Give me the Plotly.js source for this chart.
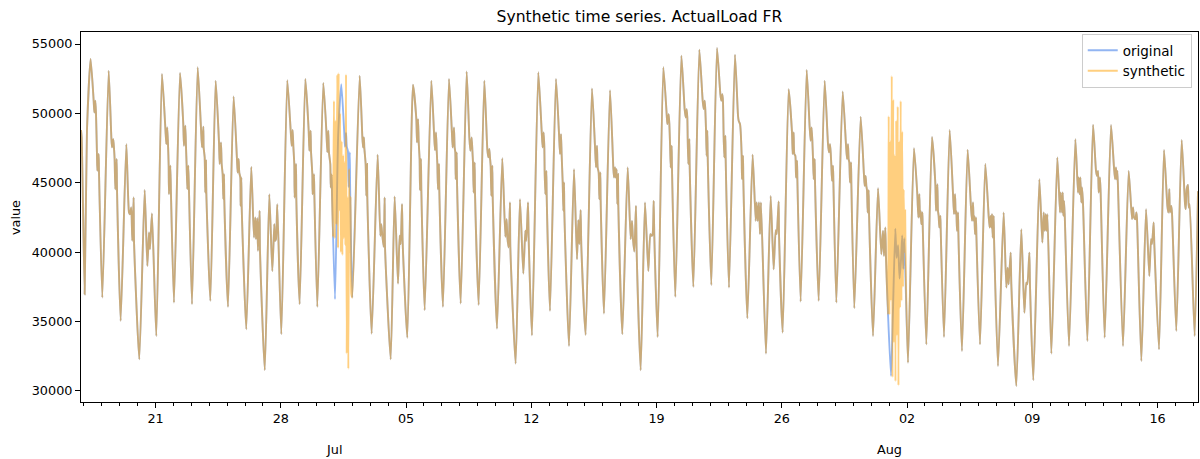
<!DOCTYPE html>
<html>
<head>
<meta charset="utf-8">
<script src="https://cdn.plot.ly/plotly-3.0.1.min.js"></script>
<style>html,body{margin:0;padding:0;background:#fff;}#chart{width:1200px;height:459px;}</style>
</head>
<body>
<div id="chart"></div>
<script>
// time base: hours since 2021-06-17 00:00
const baseDate = "2021-06-17T00:00:00Z";

// original series (ActualLoad FR): hour offset, value
const origHours = [
-4.0,-3.1,0.9,4.0,8.9,13.0,13.9,15.2,16.1,17.4,17.9,19.7,20.1,24.6,
33.1,36.7,37.6,39.3,40.2,41.1,42.0,43.8,44.3,49.2,
56.8,60.4,61.7,63.4,64.8,66.6,67.1,74.2,
81.4,85.0,87.2,88.5,91.2,97.0,
104.6,109.1,110.4,111.7,112.7,113.6,114.0,115.8,116.7,120.7,
128.8,133.2,134.1,135.9,136.8,137.7,138.6,139.9,140.8,144.9,
152.5,156.9,158.3,160.1,160.5,161.9,162.7,163.6,164.1,169.5,
176.6,181.1,182.0,183.8,184.7,186.0,186.9,187.8,188.2,193.2,
200.7,205.2,206.1,207.4,208.3,209.7,210.1,211.0,211.5,217.7,
224.4,228.0,229.8,230.7,232.5,233.4,235.6,236.1,242.5,
248.6,252.6,255.3,256.2,257.5,259.3,264.7,
272.7,277.2,278.6,279.9,280.8,282.1,282.6,284.4,284.8,289.3,
296.9,301.4,302.3,304.0,304.5,306.3,306.7,308.5,309.0,313.0,
321.0,325.1,326.4,327.7,328.6,330.4,331.0,332.2,332.8,
336.7,341.0,345.2,349.0,350.0,351.5,352.5,354.0,355.0,356.5,357.0,359.9,
369.8,373.4,374.3,375.5,376.0,377.8,378.7,379.7,380.0,385.9,
393.9,397.5,398.8,400.2,402.0,403.3,403.8,411.4,
416.7,421.2,423.4,424.8,426.6,427.4,433.7,
441.3,445.8,446.7,448.1,449.0,450.2,450.7,452.0,452.5,457.0,
465.9,469.5,470.8,472.2,473.1,474.0,474.8,476.2,476.6,481.5,
489.6,493.2,494.5,496.3,497.2,498.1,498.6,499.9,500.3,505.3,
513.3,516.9,518.2,520.0,521.0,521.8,522.7,524.0,524.5,529.4,
537.0,541.0,542.4,543.7,544.6,545.5,546.4,547.7,548.2,554.0,
561.1,565.2,566.9,567.9,569.6,571.4,571.9,579.0,
584.8,589.3,592.0,593.3,595.6,596.5,600.9,
609.4,614.0,615.2,616.6,617.5,617.9,618.8,620.2,620.6,625.1,
633.1,637.2,638.5,639.9,640.7,642.1,643.0,643.9,644.3,650.6,
657.3,661.3,663.1,664.4,666.2,667.1,672.9,
681.4,685.4,686.8,688.1,689.0,690.4,691.3,692.6,693.0,697.5,
705.6,710.0,710.9,712.3,713.2,714.5,715.4,716.3,716.7,722.1,
729.3,733.3,735.1,736.4,738.2,740.4,741.3,746.7,
752.5,757.0,759.7,761.5,762.8,764.2,765.0,769.5,
777.1,781.6,782.5,784.3,785.2,786.1,787.0,788.3,788.7,793.2,
801.3,805.7,807.1,808.4,809.3,809.8,810.6,812.0,812.4,817.4,
825.4,829.9,831.2,832.6,833.4,834.4,835.2,836.1,836.6,841.5,
849.1,853.6,854.9,856.3,857.1,858.0,858.9,860.3,860.7,865.2,
873.2,877.3,878.2,880.0,882.2,882.6,884.0,884.4,889.8,
896.9,901.0,902.3,903.7,905.4,906.8,908.1,914.8,
921.1,925.1,927.8,929.2,931.8,932.3,937.2,
945.2,949.7,950.6,951.9,952.8,954.2,955.1,956.5,956.9,961.3,
969.4,973.4,974.7,976.0,977.0,977.9,978.8,980.1,980.5,985.5,
993.5,998.0,999.3,1000.7,1001.6,1002.5,1003.4,1004.7,1005.2,1009.2,
1017.7,1022.2,1023.5,1024.8,1025.7,1026.6,1027.5,1028.9,1029.3,1033.3,
1041.8,1046.3,1047.2,1048.5,1049.4,1050.3,1051.2,1052.5,1053.0,1058.4,
1065.1,1069.5,1071.8,1073.1,1074.9,1075.8,1078.5,
1082.5,1085.0,1088.3,1090.0,1092.0,1094.0,1096.0,1097.5,1099.0,1100.4,1105.3,
1113.3,1117.8,1119.2,1120.5,1121.4,1122.3,1123.2,1124.6,1125.0,1129.9,
1137.5,1142.0,1142.9,1144.7,1145.5,1146.4,1147.3,1148.7,1149.1,1153.6,
1161.2,1165.7,1167.0,1168.4,1169.3,1170.1,1171.0,1172.4,1172.8,1177.7,
1185.3,1189.8,1191.2,1192.5,1193.4,1194.3,1195.2,1196.5,1197.0,1201.9,
1209.0,1213.5,1214.8,1216.2,1217.1,1218.0,1218.9,1220.2,1220.7,1226.0,
1233.6,1237.2,1239.0,1240.3,1243.0,1243.9,1250.6,
1257.3,1261.4,1264.0,1265.4,1268.1,1269.0,1273.4,
1281.5,1285.5,1287.3,1288.6,1290.0,1290.9,1292.3,1297.6,
1305.6,1309.2,1310.1,1311.9,1312.8,1313.7,1314.6,1315.5,1321.3,
1329.8,1333.3,1334.2,1335.6,1336.5,1337.8,1338.7,1340.0,1345.9,
1353.5,1357.5,1358.8,1360.2,1361.1,1362.8,1363.7,1369.1,
1377.6,1381.6,1383.0,1384.3,1385.2,1386.1,1387.0,1393.7,
1401.3,1405.8,1407.1,1408.5,1410.3,1411.6,1412.4,1418.3,
1424.6,1429.0,1431.3,1432.6,1434.8,1435.7,1442.0,
1448.7,1453.2,1454.5,1455.8,1456.7,1458.5,1459.4,1465.2,
1472.4,1476.9,1477.8,1479.1,1480.9,1481.8,1483.1,1489.8,
1494.3
];
const origLoad = [
48800,48270,36970,48750,53920,50910,50070,50910,50070,47070,45870,47070,45870,36730,
53080,48270,47550,48150,47550,46710,44540,46710,44540,35050,
47790,42860,42740,43220,40820,43940,40820,32280,
44490,39010,41420,40220,42790,33960,
52840,48990,47790,48990,47790,46230,44180,46230,44180,36370,
52910,49230,47670,49110,47670,46230,44540,46230,44540,36250,
53320,48990,47550,49040,47550,46830,44300,46590,44300,36490,
52360,47910,46350,47910,46350,45620,43820,45620,43820,36060,
51230,46710,45740,46710,45740,45380,43340,45380,43340,34450,
46150,41060,42500,40940,42450,40100,42980,40100,31500,
44180,38640,42020,40820,40940,43460,34090,
52400,48800,47670,48800,47670,46350,43940,46350,43940,36250,
52480,48750,47310,48750,47310,45620,44180,45620,44180,36060,
52190,48750,47190,48750,47190,46350,44660,45600,44000,
36610,48500,52110,48700,47600,48600,47600,47300,44700,47200,44700,36730,
52720,48270,47550,48270,47550,46350,44060,46350,44060,34130,
47020,41180,42020,41180,40380,43940,40380,32280,
44010,37740,41180,40580,43460,40820,33840,
52070,49590,47910,49590,47910,46710,44470,46710,44470,35820,
52360,48630,47350,48630,47350,46350,44540,46350,44540,36060,
52480,48990,47550,48990,47550,47190,45260,47190,45260,36300,
53030,48270,47310,48270,47310,46470,44300,46470,44300,36200,
52360,47430,46830,47430,46830,46230,44060,46230,44060,34490,
46780,41110,42380,41060,40340,43580,40340,31970,
43820,38460,41540,40820,43580,40940,34010,
52960,48630,47550,48630,47550,45860,44180,45860,44180,35770,
52480,48510,47070,48510,47070,45020,42980,45020,42980,33240,
45980,39490,42310,40580,43030,40460,34040,
51800,47670,46110,47670,46110,45740,43820,45740,43820,35580,
51680,46110,45380,46110,45380,45980,43460,45620,43460,34090,
46110,40940,42260,40940,40050,43340,40100,31490,
43580,38640,41300,41180,41300,43700,41180,33890,
53320,49950,49230,49950,49230,47790,46110,47670,46110,36780,
54160,50310,49710,50310,49710,48150,46350,48150,46350,37500,
54590,50910,50310,50910,50310,48750,46950,48750,46950,37640,
54710,51390,50910,51390,50910,48390,46830,48390,46830,37450,
54230,49830,49470,49230,46950,45260,46950,45260,35240,
47020,42260,43580,42260,43580,41300,43580,32690,
44060,38770,41590,41300,43650,41300,34210,
51750,48630,47070,48630,47070,46950,45380,46590,45260,36440,
53130,48990,48030,48990,48030,46710,45260,46710,45260,36490,
52360,47790,47190,47790,47190,46230,45140,46230,45140,36370,
51590,47670,46710,47790,46710,46470,45020,46470,45020,35960,
49760,45500,44780,45500,44780,44470,42860,44470,42860,33960,
44610,39850,41540,39730,41780,39610,35520,
31080,35500,41700,39600,40500,38100,39500,41200,38800,41000,32040,
47500,44180,42500,44180,42500,42980,42020,42860,42020,33360,
48310,44900,42980,44900,42980,42620,41780,42620,41780,33890,
48800,44180,42740,44180,42740,42980,41540,42860,41540,32880,
47380,43220,42260,43580,42260,42620,41300,42500,41300,33360,
46350,42620,41780,42620,41780,42740,41060,42620,41060,31800,
42860,37450,38890,37690,39970,37690,30360,
41660,35640,37810,37690,39970,37450,30770,
45260,40700,42860,41540,42740,41540,42740,32690,
46830,42860,44300,42860,44300,42620,43700,42740,33240,
48150,44300,45380,44180,45380,43580,44660,43580,33600,
49180,45860,45500,45860,44300,45380,44300,33840,
49160,46110,45260,46110,45260,45860,44660,33240,
45860,42380,43220,42500,42380,42860,42500,32160,
43100,38290,40940,40580,42140,40580,33000,
47360,43340,42860,44540,42860,43340,42860,34330,
48080,43460,43100,44540,44850,43220,43460,33960,
44400
];

// synthetic series: equals the original except in two windows, where it reads:
const synthWindowA = [332.8, 359.9];
const synthAHours = [334.0,335.3,336.4,337.5,338.6,339.8,340.8,341.6,342.6,343.6,344.6,345.6,346.6,347.6,348.6,349.6,350.6,351.5,352.4,353.3,354.6,355.6,356.6,357.6,358.6];
const synthALoad  = [41100,50900,41000,49500,42000,52800,40300,52900,43000,50000,40000,48000,39800,47000,41000,46500,40500,52800,32700,44000,31600,46000,40000,44000,37000];
const synthWindowB = [1078.5, 1105.3];
const synthBHours = [1079.4,1080.4,1081.4,1082.4,1083.5,1084.5,1085.5,1086.5,1087.5,1088.5,1089.5,1090.5,1091.5,1092.5,1093.5,1094.5,1095.5,1096.5,1097.5,1098.5,1099.5,1100.5,1101.5,1102.5];
const synthBLoad  = [49800,35500,48000,36500,52700,31000,51000,33500,47000,30700,49500,34000,50500,30400,48000,36000,50900,36500,48700,37500,44500,40000,43000,38000];

// axis ticks
const majorTickDates  = ["2021-06-21","2021-06-28","2021-07-05","2021-07-12","2021-07-19","2021-07-26","2021-08-02","2021-08-09","2021-08-16"];
const majorTickLabels = ["21","28","05","12","19","26","02","09","16"];
const monthLabels = [["2021-07-01","Jul"],["2021-08-01","Aug"]];
const yTickValues = [30000,35000,40000,45000,50000,55000];
const xRangeHours = [-4.0, 1494.3];
const yRange = [29207, 55865];

const t0 = Date.parse(baseDate);
function toDate(h){
  return new Date(t0 + h*3600000).toISOString().slice(0,19).replace("T"," ");
}

// build synthetic from the original plus the windows
const synthH = [], synthV = [];
const windows = [[synthWindowA, synthAHours, synthALoad],[synthWindowB, synthBHours, synthBLoad]];
for (let i=0;i<origHours.length;i++){
  const h = origHours[i];
  let inside = false;
  for (const [w] of windows){ if (h > w[0] && h < w[1]) inside = true; }
  if (!inside){ synthH.push(h); synthV.push(origLoad[i]); }
  for (const [w, wh, wv] of windows){
    if (h === w[0]){ for (let k=0;k<wh.length;k++){ synthH.push(wh[k]); synthV.push(wv[k]); } }
  }
}

const FONT = "DejaVu Sans, Verdana, sans-serif";
const traces = [
  {x: origHours.map(toDate), y: origLoad, type:"scatter", mode:"lines", name:"original",
   line:{color:"rgba(100,149,237,0.7)", width:1.9, shape:"spline", smoothing:0.55}},
  {x: synthH.map(toDate), y: synthV, type:"scatter", mode:"lines", name:"synthetic",
   line:{color:"rgba(255,160,0,0.5)", width:1.9, shape:"spline", smoothing:0.55}}
];

const annotations = [
  {text:"value", xref:"paper", yref:"paper", x:-0.0591, y:0.5, xanchor:"center", yanchor:"middle",
   textangle:-90, showarrow:false, font:{family:FONT, size:12.8, color:"#000"}}
].concat(monthLabels.map(m => ({
  text:m[1], xref:"x", yref:"paper", x:m[0], y:-0.128, xanchor:"center", yanchor:"middle",
  showarrow:false, font:{family:FONT, size:12.8, color:"#000"}
})));

const layout = {
  width:1200, height:459,
  margin:{l:81, r:2, t:32, b:57, pad:0},
  paper_bgcolor:"#fff", plot_bgcolor:"#fff",
  font:{family:FONT, size:12.8, color:"#000"},
  title:{text:"Synthetic time series. ActualLoad FR", x:0.5, xref:"paper", xanchor:"center",
         y:1-17/459, yref:"container", yanchor:"middle", font:{family:FONT, size:15.6, color:"#000"}},
  showlegend:true,
  legend:{x:0.9944, y:0.9946, xanchor:"right", yanchor:"top", bgcolor:"rgba(255,255,255,0.8)",
          bordercolor:"#cccccc", borderwidth:1, font:{family:FONT, size:13.5, color:"#000"},
          itemwidth:30, tracegroupgap:0},
  xaxis:{type:"date", range:xRangeHours.map(toDate), tickmode:"array",
         tickvals:majorTickDates, ticktext:majorTickLabels,
         ticks:"outside", ticklen:5, tickwidth:1, tickcolor:"#000",
         showline:true, mirror:true, linecolor:"#000", linewidth:1,
         showgrid:false, zeroline:false, tickfont:{family:FONT, size:12.8, color:"#000"},
         minor:{tickmode:"linear", tick0:"2021-06-17", dtick:86400000, ticks:"outside",
                ticklen:3, tickwidth:1, tickcolor:"#000", showgrid:false}},
  yaxis:{range:yRange, tickmode:"array", tickvals:yTickValues, ticktext:yTickValues.map(String),
         ticks:"outside", ticklen:5, tickwidth:1, tickcolor:"#000",
         showline:true, mirror:true, linecolor:"#000", linewidth:1,
         showgrid:false, zeroline:false, tickfont:{family:FONT, size:12.8, color:"#000"}},
  annotations:annotations
};

Plotly.newPlot("chart", traces, layout, {staticPlot:true, displayModeBar:false});
</script>
</body>
</html>
